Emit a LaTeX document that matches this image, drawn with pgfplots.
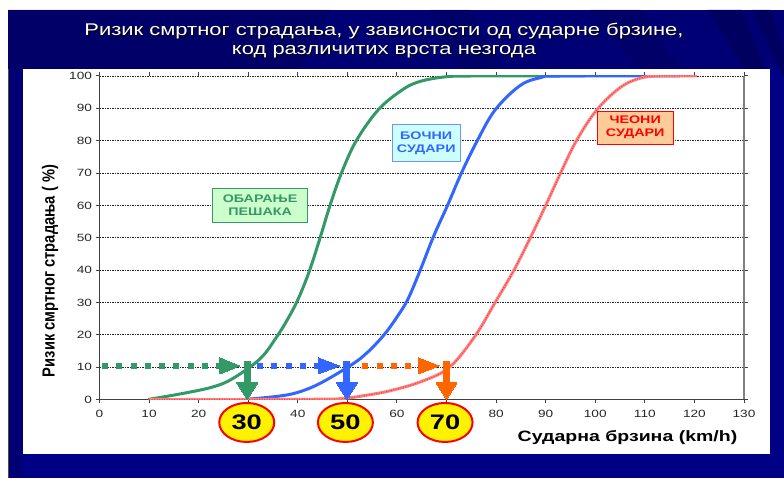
\documentclass[border=0pt]{standalone}
\usepackage{pgfplots}
\pgfplotsset{compat=1.18}
\usetikzlibrary{shapes.geometric}
\usepackage{fontspec}
\setmainfont{Liberation Sans}
\newfontfamily\wide[FakeStretch=1.3]{Liberation Sans}
\definecolor{panel}{RGB}{0,0,134}
\definecolor{paneldark}{RGB}{0,0,96}
\definecolor{panelmid}{RGB}{0,0,116}
\definecolor{greenc}{RGB}{51,153,102}
\definecolor{bluec}{RGB}{51,102,255}
\definecolor{orangec}{RGB}{255,102,0}
\definecolor{pinkc}{RGB}{255,128,128}
\definecolor{greenbox}{RGB}{204,255,204}
\definecolor{bluebox}{RGB}{204,255,255}
\definecolor{redbox}{RGB}{255,204,153}
\tikzset{badge/.style={ellipse,draw=red,fill=yellow,line width=2pt,minimum width=55pt,minimum height=39pt,inner sep=0pt,
     font=\wide\bfseries\fontsize{21}{24}\selectfont}}
\begin{document}
\begin{tikzpicture}[x=1pt,y=1pt]
% slide background
\fill[white] (0,0) rectangle (784,478);
\fill[panel] (8,0) rectangle (784,468);
\fill[panelmid] (8,409) rectangle (784,468);
\fill[panelmid] (8,0) rectangle (23,409);
\fill[paneldark,opacity=.6] (8,468) -- (330,468) -- (300,409) -- (8,409) -- cycle;
\fill[paneldark] (708,468) -- (742,468) -- (765,409) -- (745,409) -- cycle;
\fill[paneldark] (752,468) -- (770,468) -- (784,428) -- (784,400) -- cycle;
\fill[paneldark,opacity=.6] (590,468) -- (640,468) -- (680,409) -- (640,409) -- cycle;
\fill[paneldark,opacity=.5] (430,468) -- (470,468) -- (500,409) -- (460,409) -- cycle;
\draw[black!70,line width=1pt] (8.5,0) -- (8.5,409);
% white plate
\fill[white] (23,24) rectangle (770,409);
% heading with its drop shadow
\node[black,font=\wide\fontsize{16.9}{20}\selectfont] at (385,446) {Ризик смртног страдања, у зависности од сударне брзине,};
\node[white,font=\wide\fontsize{16.9}{20}\selectfont] at (384,447) {Ризик смртног страдања, у зависности од сударне брзине,};
\node[black,font=\wide\fontsize{16.9}{20}\selectfont] at (385,425) {код различитих врста незгода};
\node[white,font=\wide\fontsize{16.9}{20}\selectfont] at (384,426) {код различитих врста незгода};
% axis titles
\node[rotate=90,font=\bfseries\fontsize{17.5}{20}\selectfont] at (50,207) {\scalebox{0.84}[1]{Ризик смртног страдања ( \%)}};
\node[font=\wide\bfseries\fontsize{15}{18}\selectfont] at (627.5,40.5) {Сударна брзина (km/h)};
\begin{axis}[
  at={(99.5pt,78.5pt)}, anchor=origin,
  scale only axis, width=644.5pt, height=323.5pt,
  xmin=0, xmax=130, ymin=0, ymax=100,
  xtick={0,10,...,130}, ytick={0,10,...,100},
  % the badges stand in for the labels at 30, 50 and 70
  xticklabels={0,10,20,{},40,{},60,{},80,90,100,110,120,130},
  axis line style={draw=none},
  ymajorgrids,
  grid style={black!85,line width=0.8pt,dash pattern=on 1.6pt off 0.9pt},
  tick align=outside, major tick length=4pt,
  tick style={black!75,line width=1pt},
  x tick label style={yshift=-3pt},
  tick label style={font=\wide\fontsize{10.5}{12}\selectfont,text=black!85},
  /pgf/number format/assume math mode=true,
  clip mode=individual,
]
% axis lines
\draw[black!75,line width=1.5pt] (axis cs:0,100) -- (axis cs:0,0) -- (axis cs:130,0);
\draw[black!50,line width=1.5pt] (axis cs:130,0) -- (axis cs:130,100);
% risk curves
\addplot[greenc,line width=3pt,smooth,tension=0.6] coordinates {
 (9.8,0) (16.9,1.9) (22.9,3.9) (26.9,6.5) (32.4,12.6) (35.8,19.5) (38.2,25.5) (40.2,31.5) (42.4,40)
 (44.5,50) (46.5,60) (48.8,70) (51.8,80) (56.2,89.5) (60.6,95.2) (64,98) (69,99.6) (75,100) (98,100)};
\addplot[bluec,line width=3pt,smooth,tension=0.6] coordinates {
 (30,0.1) (36,1) (40,2.2) (44.5,5) (50.8,10.7) (54,14.5) (57.4,20) (60,25.5) (62.2,31) (64.7,40)
 (67.4,50.5) (70.2,60) (73,70) (76.2,80) (79.8,89.5) (84.8,97) (89,99.5) (93,100) (117,100)};
\addplot[pinkc,line width=3pt,smooth,tension=0.6] coordinates {
 (10,0) (30,0) (45,0.1) (49,0.3) (53,1.1) (58.6,2.7) (65,5.6) (70.6,10) (75.7,19.5) (79.8,30)
 (83.6,40) (86.9,50) (90,60) (93,70) (96.2,80) (100.3,89.5) (105,96.4) (109,99.3) (113,100) (120.5,100)};
\addplot[red,opacity=.55,line width=1pt,dash pattern=on 1pt off 1.5pt,smooth,tension=0.6] coordinates {
 (10,0) (30,0) (45,0.1) (49,0.3) (53,1.1) (58.6,2.7) (65,5.6) (70.6,10) (75.7,19.5) (79.8,30)
 (83.6,40) (86.9,50) (90,60) (93,70) (96.2,80) (100.3,89.5) (105,96.4) (109,99.3) (113,100) (120.5,100)};
% horizontal dashed leaders at the 10 % level
\addplot[greenc,line width=6pt,dash pattern=on 6pt off 8.3pt] coordinates {(0.5,10.4) (24.3,10.4)};
\addplot[greenc,fill=greenc,line width=0pt] coordinates {(24.3,12.9) (28.3,10.4) (24.3,7.9)} -- cycle;
\addplot[bluec,line width=6pt,dash pattern=on 6pt off 8.3pt] coordinates {(31.8,10.4) (44.1,10.4)};
\addplot[bluec,fill=bluec,line width=0pt] coordinates {(44.1,12.9) (48.5,10.4) (44.1,7.9)} -- cycle;
\addplot[orangec,line width=6pt,dash pattern=on 6pt off 8.3pt] coordinates {(53,10.4) (64.3,10.4)};
\addplot[orangec,fill=orangec,line width=0pt] coordinates {(64.3,12.9) (68.5,10.4) (64.3,7.9)} -- cycle;
% downward arrows to the speed axis
\addplot[greenc,line width=7pt] coordinates {(29.8,11.9) (29.8,5)};
\addplot[greenc,fill=greenc,line width=0pt] coordinates {(27.7,5.1) (31.9,5.1) (29.8,0)} -- cycle;
\addplot[bluec,line width=7pt] coordinates {(49.9,11.9) (49.9,5)};
\addplot[bluec,fill=bluec,line width=0pt] coordinates {(47.8,5.1) (52,5.1) (49.9,0)} -- cycle;
\addplot[orangec,line width=7pt] coordinates {(70,11.9) (70,5)};
\addplot[orangec,fill=orangec,line width=0pt] coordinates {(67.9,5.1) (72.1,5.1) (70,0)} -- cycle;
% speed badges
\node[badge] at (axis cs:29.7,-7.1) {30};
\node[badge] at (axis cs:49.6,-7.1) {50};
\node[badge] at (axis cs:69.7,-7.1) {70};
% collision type labels
\node[draw=greenc,fill=greenbox,line width=1pt,minimum width=95pt,minimum height=34pt,inner sep=0pt,align=center,
  text=greenc,font=\wide\bfseries\fontsize{11}{13}\selectfont] at (axis cs:32.4,60) {ОБАРАЊЕ\\ПЕШАКА};
\node[draw=bluec!70,fill=bluebox,line width=1pt,minimum width=68pt,minimum height=37pt,inner sep=0pt,align=center,
  text=bluec,font=\wide\bfseries\fontsize{11}{13}\selectfont] at (axis cs:65.9,79.3) {БОЧНИ\\СУДАРИ};
\node[draw=red,fill=redbox,line width=1pt,minimum width=76pt,minimum height=33pt,inner sep=0pt,align=center,
  text=red,font=\wide\bfseries\fontsize{11}{13}\selectfont] at (axis cs:108.05,84) {ЧЕОНИ\\СУДАРИ};
\end{axis}
\end{tikzpicture}
\end{document}
